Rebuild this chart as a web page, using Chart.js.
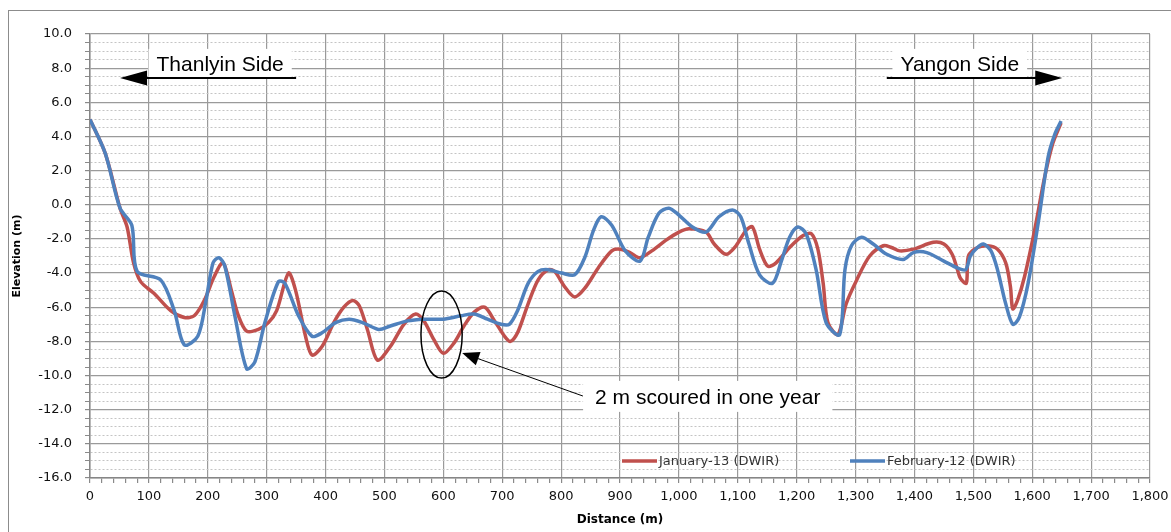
<!DOCTYPE html>
<html>
<head>
<meta charset="utf-8">
<script src="https://cdn.jsdelivr.net/npm/chart.js@4.4.1/dist/chart.umd.min.js"></script>
<style>
  html, body { margin: 0; padding: 0; background: #fff; }
  canvas { display: block; }
</style>
</head>
<body>
<canvas id="profileChart" width="1171" height="532"></canvas>
<script>
// cross section (distance m, elevation m)
const distJan13 = [0, 26, 51, 63, 74, 86, 109, 137, 160, 177, 194, 211, 226, 240, 251, 266, 286, 303, 317, 337, 349, 366, 377, 394, 414, 431, 446, 457, 471, 488, 510, 533, 553, 567, 584, 600, 618, 635, 652, 670, 687, 704, 714, 726, 744, 761, 778, 789, 806, 823, 840, 863, 886, 900, 917, 934, 954, 977, 1000, 1017, 1046, 1060, 1080, 1097, 1114, 1125, 1137, 1151, 1165, 1188, 1211, 1225, 1236, 1245, 1253, 1270, 1284, 1302, 1324, 1347, 1361, 1375, 1398, 1432, 1450, 1464, 1473, 1478, 1488, 1490, 1493, 1507, 1524, 1541, 1555, 1563, 1567, 1575, 1587, 1604, 1621, 1635, 1649];
const elevJan13 = [5.0, 3.0, -0.2, -1.3, -3.4, -4.5, -5.2, -6.2, -6.6, -6.5, -5.6, -4.2, -3.4, -5.0, -6.4, -7.4, -7.3, -6.9, -6.2, -4.0, -5.0, -7.7, -8.8, -8.3, -6.9, -6.0, -5.6, -5.9, -7.3, -9.1, -8.3, -7.0, -6.4, -6.8, -7.9, -8.7, -8.1, -7.1, -6.3, -6.0, -6.8, -7.7, -8.0, -7.5, -5.8, -4.4, -3.8, -3.9, -4.8, -5.4, -4.9, -3.7, -2.7, -2.6, -2.8, -3.1, -2.7, -2.1, -1.6, -1.4, -1.6, -2.3, -2.9, -2.4, -1.5, -1.3, -2.6, -3.6, -3.4, -2.5, -1.8, -1.7, -2.6, -4.6, -6.9, -7.6, -5.8, -4.4, -3.0, -2.4, -2.5, -2.7, -2.6, -2.2, -2.3, -2.9, -3.8, -4.3, -4.6, -3.4, -2.9, -2.5, -2.4, -2.6, -3.4, -4.8, -6.1, -5.6, -4.2, -1.5, 1.6, 3.6, 4.8];

const distFeb12 = [0, 26, 51, 71, 80, 120, 143, 160, 183, 197, 209, 219, 229, 246, 266, 280, 297, 320, 331, 354, 377, 394, 417, 440, 463, 490, 510, 539, 567, 600, 630, 652, 675, 698, 712, 726, 744, 761, 778, 801, 823, 840, 855, 868, 886, 909, 934, 948, 966, 983, 1000, 1023, 1046, 1068, 1091, 1105, 1119, 1137, 1159, 1174, 1188, 1202, 1216, 1233, 1250, 1273, 1282, 1293, 1310, 1330, 1353, 1381, 1398, 1421, 1450, 1473, 1487, 1495, 1507, 1517, 1530, 1541, 1555, 1567, 1578, 1593, 1610, 1627, 1638, 1649];
const elevFeb12 = [5.0, 3.0, -0.2, -1.2, -3.9, -4.4, -6.2, -8.2, -7.7, -5.6, -3.4, -3.1, -3.6, -6.5, -9.6, -9.2, -6.9, -4.5, -4.6, -6.5, -7.7, -7.5, -6.9, -6.7, -6.9, -7.3, -7.1, -6.8, -6.7, -6.7, -6.5, -6.4, -6.7, -7.0, -7.0, -6.2, -4.6, -3.9, -3.8, -4.0, -4.1, -3.1, -1.5, -0.7, -1.2, -2.7, -3.3, -1.9, -0.5, -0.2, -0.6, -1.3, -1.6, -0.7, -0.3, -0.7, -2.3, -4.1, -4.6, -3.3, -1.9, -1.3, -1.7, -3.8, -6.9, -7.6, -3.8, -2.4, -1.9, -2.3, -2.9, -3.2, -2.8, -2.8, -3.3, -3.7, -3.8, -3.0, -2.5, -2.3, -2.7, -3.8, -5.8, -7.0, -6.6, -4.6, -1.1, 2.8, 4.1, 4.9];

const seriesNames = ["January-13 (DWIR)", "February-12 (DWIR)"];
const seriesColors = ["#C0504D", "#4F81BD"];

const xTickLabels = [0, 100, 200, 300, 400, 500, 600, 700, 800, 900, 1000, 1100, 1200, 1300, 1400, 1500, 1600, 1700, 1800];
const yTickLabels = [-16, -14, -12, -10, -8, -6, -4, -2, 0, 2, 4, 6, 8, 10];
const xMinorStep = 20;
const yMinorStep = 0.5;

const FONT = "'DejaVu Sans', sans-serif";
const NOTE_FONT = "21px 'Liberation Sans', Arial, sans-serif";

const toPoints = (xs, ys) => xs.map((x, i) => ({ x: x, y: ys[i] }));

// major ticks from the label lists, minor ones filled in between
function withMinors(majors, step) {
  const out = [];
  for (let i = 0; i < majors.length; i++) {
    out.push({ value: majors[i] });
    if (i < majors.length - 1) {
      for (let v = majors[i] + step; v < majors[i + 1] - 1e-9; v += step) {
        out.push({ value: Math.round(v * 100) / 100 });
      }
    }
  }
  return out;
}
const isMajorX = (v) => xTickLabels.includes(v);
const isMajorY = (v) => yTickLabels.includes(v);

// annotation positions in data units
const sideNotes = [
  { text: "Thanlyin Side", x: 221, y: 8.25, lineFrom: 350, lineTo: 51, lineY: 7.42 },
  { text: "Yangon Side", x: 1477, y: 8.25, lineFrom: 1353, lineTo: 1651, lineY: 7.42 }
];
const scourRing = { x: 597, y: -7.6, rx: 35, ry: 2.55 };
const scourNote = { text: "2 m scoured in one year", x: 1049, y: -11.25, fromX: 837, fromY: -11.2, toX: 632, toY: -8.68 };

function arrowHead(ctx, x1, y1, x2, y2, len, half) {
  const a = Math.atan2(y2 - y1, x2 - x1);
  ctx.beginPath();
  ctx.moveTo(x2, y2);
  ctx.lineTo(x2 - len * Math.cos(a) + half * Math.sin(a), y2 - len * Math.sin(a) - half * Math.cos(a));
  ctx.lineTo(x2 - len * Math.cos(a) - half * Math.sin(a), y2 - len * Math.sin(a) + half * Math.cos(a));
  ctx.closePath();
  ctx.fill();
}

const framePlugin = {
  id: "frame",
  beforeDraw(chart) {
    const ctx = chart.ctx;
    ctx.save();
    ctx.fillStyle = "#fff";
    ctx.fillRect(0, 0, chart.width, chart.height);
    ctx.strokeStyle = "#8c8c8c";
    ctx.lineWidth = 1;
    ctx.strokeRect(8.5, 10.5, chart.width + 10, chart.height + 10);
    ctx.restore();
  }
};

const notesPlugin = {
  id: "notes",
  afterDatasetsDraw(chart) {
    const ctx = chart.ctx;
    const xs = chart.scales.x, ys = chart.scales.y;
    const px = (v) => xs.getPixelForValue(v);
    const py = (v) => ys.getPixelForValue(v);
    ctx.save();
    ctx.font = NOTE_FONT;
    ctx.textAlign = "center";
    ctx.textBaseline = "middle";

    sideNotes.forEach((n) => {
      const w = ctx.measureText(n.text).width;
      const cx = px(n.x), cy = py(n.y), ly = py(n.lineY);
      ctx.fillStyle = "#fff";
      ctx.fillRect(cx - w / 2 - 8, cy - 15, w + 16, ly - cy + 15);
      ctx.strokeStyle = "#000";
      ctx.fillStyle = "#000";
      ctx.lineWidth = 2;
      const x1 = px(n.lineFrom), x2 = px(n.lineTo);
      const dir = Math.sign(x2 - x1);
      ctx.beginPath();
      ctx.moveTo(x1, ly);
      ctx.lineTo(x2 - dir * 20, ly);
      ctx.stroke();
      arrowHead(ctx, x1, ly, x2, ly, 27, 7.5);
      ctx.fillText(n.text, cx, cy + 1);
    });

    // ring round the scoured spot
    ctx.strokeStyle = "#000";
    ctx.lineWidth = 1.5;
    ctx.beginPath();
    ctx.ellipse(px(scourRing.x), py(scourRing.y),
      Math.abs(px(scourRing.x + scourRing.rx) - px(scourRing.x)),
      Math.abs(py(scourRing.y + scourRing.ry) - py(scourRing.y)), 0, 0, Math.PI * 2);
    ctx.stroke();

    // callout
    const w = ctx.measureText(scourNote.text).width;
    const cx = px(scourNote.x), cy = py(scourNote.y);
    ctx.fillStyle = "#fff";
    ctx.fillRect(cx - w / 2 - 12, cy - 16, w + 24, 31);
    const fx = px(scourNote.fromX), fy = py(scourNote.fromY);
    const tx = px(scourNote.toX), ty = py(scourNote.toY);
    ctx.lineWidth = 1;
    ctx.beginPath();
    ctx.moveTo(fx, fy);
    ctx.lineTo(tx + (fx - tx) * 0.1, ty + (fy - ty) * 0.1);
    ctx.stroke();
    ctx.fillStyle = "#000";
    arrowHead(ctx, fx, fy, tx, ty, 17, 7);
    ctx.fillText(scourNote.text, cx, cy + 1);
    ctx.restore();
  },
  afterDraw(chart) {
    // legend sits inside the plot, near the bottom
    const ctx = chart.ctx;
    const area = chart.chartArea;
    const y = area.bottom - 17;
    const spots = [area.left + 532, area.left + 760];
    ctx.save();
    ctx.font = "13px " + FONT;
    ctx.textBaseline = "middle";
    ctx.textAlign = "left";
    seriesNames.forEach((name, i) => {
      ctx.strokeStyle = seriesColors[i];
      ctx.lineWidth = 3.5;
      ctx.beginPath();
      ctx.moveTo(spots[i], y);
      ctx.lineTo(spots[i] + 35, y);
      ctx.stroke();
      ctx.fillStyle = "#333";
      ctx.fillText(name, spots[i] + 37, y + 1);
    });
    ctx.restore();
  }
};

new Chart(document.getElementById("profileChart").getContext("2d"), {
  type: "line",
  data: {
    datasets: [
      {
        label: seriesNames[1],
        data: toPoints(distFeb12, elevFeb12),
        borderColor: seriesColors[1],
        borderWidth: 3.5,
        pointRadius: 0,
        tension: 0.3,
        fill: false
      },
      {
        label: seriesNames[0],
        data: toPoints(distJan13, elevJan13),
        borderColor: seriesColors[0],
        borderWidth: 3.5,
        pointRadius: 0,
        tension: 0.3,
        fill: false
      }
    ]
  },
  options: {
    responsive: false,
    animation: false,
    layout: { padding: { top: 34, right: 21, left: 0, bottom: 0 } },
    plugins: {
      legend: { display: false },
      tooltip: { enabled: false }
    },
    scales: {
      x: {
        type: "linear",
        min: 0,
        max: 1800,
        afterBuildTicks: (scale) => { scale.ticks = withMinors(xTickLabels, xMinorStep); },
        afterFit: (scale) => {
          scale.height = 54;
          scale.paddingLeft = 0;
          scale.paddingRight = 0;
        },
        ticks: {
          autoSkip: false,
          maxRotation: 0,
          padding: 6,
          color: "#111",
          font: { family: FONT, size: 13 },
          callback: (v) => (isMajorX(v) ? v.toLocaleString("en-US") : "")
        },
        grid: {
          color: (c) => (c.tick && isMajorX(c.tick.value) ? "#9a9a9a" : "rgba(0,0,0,0)"),
          lineWidth: 1.2,
          tickColor: "#8a8a8a",
          tickLength: 5
        },
        border: { color: "#868686", width: 1.5 },
        title: {
          display: true,
          text: "Distance (m)",
          color: "#000",
          font: { family: FONT, size: 12, weight: "bold" },
          padding: { top: 0, bottom: 5 }
        }
      },
      y: {
        type: "linear",
        min: -16,
        max: 10,
        afterBuildTicks: (scale) => { scale.ticks = withMinors(yTickLabels, yMinorStep); },
        afterFit: (scale) => { scale.width = 90; },
        ticks: {
          autoSkip: false,
          padding: 13,
          color: "#111",
          font: { family: FONT, size: 13 },
          callback: (v) => (isMajorY(v) ? v.toFixed(1) : "")
        },
        grid: {
          color: (c) => (c.tick && isMajorY(c.tick.value) ? "#9a9a9a" : "#c4c4c4"),
          lineWidth: (c) => (c.tick && isMajorY(c.tick.value) ? 1.2 : 1),
          tickColor: "#8a8a8a",
          tickLength: 5
        },
        border: {
          color: "#868686",
          width: 1.5,
          dash: (c) => (c.tick && !isMajorY(c.tick.value) ? [2, 2] : [])
        },
        title: {
          display: true,
          text: "Elevation (m)",
          color: "#000",
          font: { family: FONT, size: 11, weight: "bold" },
          padding: { top: 11, bottom: 0 }
        }
      }
    }
  },
  plugins: [framePlugin, notesPlugin]
});
</script>
</body>
</html>
